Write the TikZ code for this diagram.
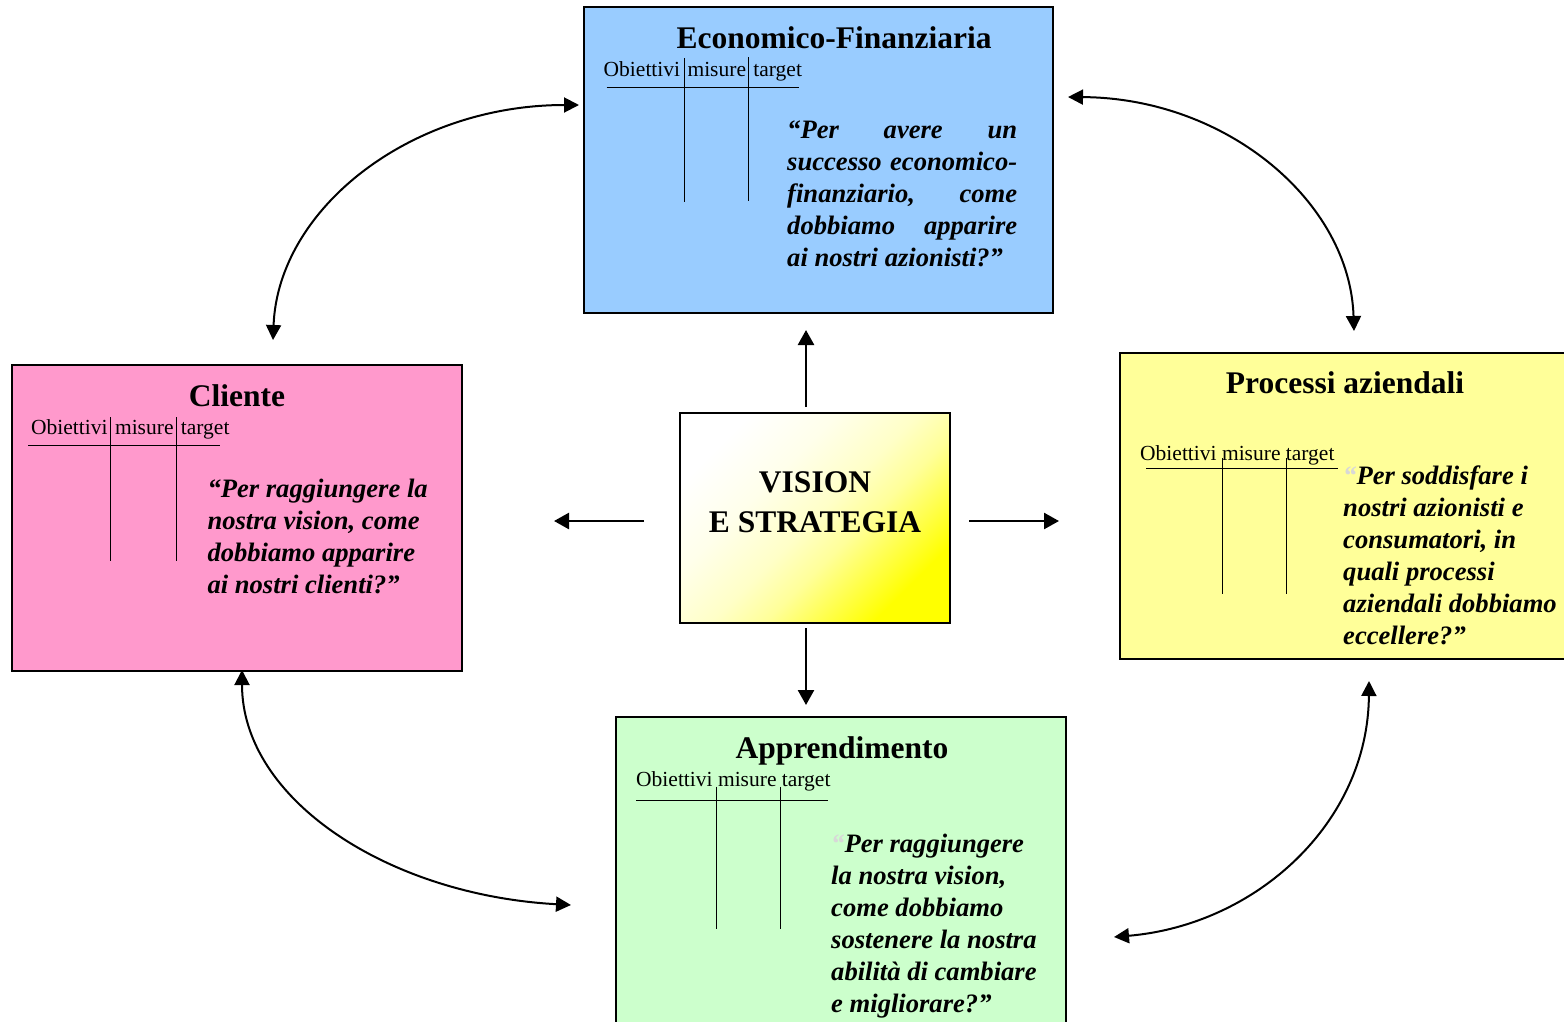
\documentclass[tikz,border=0pt]{standalone}
\usepackage{fontspec}
\setmainfont{Liberation Serif}
\usetikzlibrary{arrows.meta}
\definecolor{efblue}{HTML}{99CCFF}
\definecolor{clpink}{HTML}{FF99CC}
\definecolor{pryellow}{HTML}{FFFF99}
\definecolor{apgreen}{HTML}{CCFFCC}
\definecolor{quotegray}{HTML}{D8D8D8}
% diagonal white-to-yellow fill of the central box
\pgfdeclareverticalshading{visionfill}{100bp}{%
  color(0bp)=(yellow); color(26bp)=(yellow); color(34bp)=(yellow!70);
  color(42bp)=(yellow!40); color(50bp)=(yellow!22); color(62bp)=(yellow!8);
  color(75bp)=(white); color(100bp)=(white)}
\begin{document}
\begin{tikzpicture}[x=1pt,y=-1pt,
  panel/.style={draw=black, line width=1.8pt, rectangle, inner sep=0pt},
  ttl/.style={font=\fontsize{31.5}{36}\selectfont\bfseries, anchor=base, inner sep=0pt},
  cols/.style={font=\fontsize{21.5}{24}\selectfont, anchor=base west, inner sep=0pt},
  qtext/.style={anchor=base west, inner sep=0pt, font=\fontsize{26.6}{32}\selectfont\bfseries\itshape},
  rule/.style={line width=1pt},
  arr/.style={line width=2.5pt, -{Triangle[length=15pt,width=16pt]}},
  biarr/.style={line width=2pt, {Triangle[length=15pt,width=15pt]}-{Triangle[length=15pt,width=15pt]}}
]
\useasboundingbox (0,0) rectangle (1564,1021);
\clip (0,0) rectangle (1564,1021);

% perspective panels
\node[panel, fill=efblue, minimum width=469pt, minimum height=306pt] (ef) at (818.5,160) {};
\node[panel, fill=clpink, minimum width=450pt, minimum height=306pt] (cl) at (237,518) {};
\node[panel, fill=pryellow, minimum width=450pt, minimum height=306pt] (pr) at (1345,506) {};
\node[panel, fill=apgreen, minimum width=450pt, minimum height=312pt] (ap) at (841,873) {};

% central box with diagonal shading
\node[panel, minimum width=270pt, minimum height=210pt, shading=visionfill, shading angle=45] (vs) at (815,518) {};
\node[ttl, align=center] (vsA) at (815,492) {VISION};
\node[ttl, align=center] (vsB) at (815,532) {E STRATEGIA};

% Economico-Finanziaria
\node[ttl] (efT) at (834,48) {Economico-Finanziaria};
\node[cols] (efC) at (603.5,76) {Obiettivi\hspace{2pt} misure\hspace{2pt} target};
\draw[rule] (606.7,87.3) -- (799,87.3);
\draw[rule] (684.7,58) -- (684.7,202);
\draw[rule] (748.7,57) -- (748.7,201);
\node[qtext] (efQ) at (787,138) {\parbox[t]{230pt}{“Per avere un\linebreak successo economico-\linebreak finanziario, come\linebreak dobbiamo apparire\linebreak ai nostri azionisti?”}};

% Cliente
\node[ttl] (clT) at (237,406) {Cliente};
\node[cols] (clC) at (31,434) {Obiettivi\hspace{2pt} misure\hspace{2pt} target};
\draw[rule] (28,445.3) -- (220,445.3);
\draw[rule] (110.3,417) -- (110.3,560.7);
\draw[rule] (176.3,417) -- (176.3,560.7);
\node[qtext] (clQ) at (207.3,497) {\parbox[t]{250pt}{\raggedright “Per raggiungere la\\ nostra vision, come\\ dobbiamo apparire\\ ai nostri clienti?”}};

% Processi aziendali
\node[ttl] (prT) at (1345,393) {Processi aziendali};
\node[cols] (prC) at (1140,460) {Obiettivi misure target};
\draw[rule] (1146,468.3) -- (1338,468.3);
\draw[rule] (1222,458) -- (1222,593.5);
\draw[rule] (1286,458) -- (1286,593.5);
\node[qtext] (prQ) at (1343,484) {\parbox[t]{260pt}{\raggedright\leavevmode{\color{quotegray}“}Per soddisfare i\\ nostri azionisti e\\ consumatori, in\\ quali processi\\ aziendali dobbiamo\\ eccellere?”}};

% Apprendimento
\node[ttl] (apT) at (842,758) {Apprendimento};
\node[cols] (apC) at (636,786.7) {Obiettivi misure target};
\draw[rule] (636,800.7) -- (828,800.7);
\draw[rule] (716,786.7) -- (716,929);
\draw[rule] (780,786.7) -- (780,929);
\node[qtext] (apQ) at (831,852) {\parbox[t]{230pt}{\raggedright\leavevmode{\color{quotegray}“}Per raggiungere\\ la nostra vision,\\ come dobbiamo\\ sostenere la nostra\\ abilità di cambiare\\ e migliorare?”}};

% arrow end points around the panels
\coordinate (vsN) at (806,407);
\coordinate (efS) at (806,330);
\coordinate (vsS) at (806,628);
\coordinate (apN) at (806,705);
\coordinate (vsW) at (644,521);
\coordinate (clE) at (554,521);
\coordinate (vsE) at (969,521);
\coordinate (prW) at (1059,521);
\coordinate (efW) at (579,105);
\coordinate (clN) at (273,340);
\coordinate (efE) at (1068,97);
\coordinate (prN) at (1354,331);
\coordinate (clS) at (242,670);
\coordinate (apW) at (571,905);
\coordinate (prS) at (1369,681);
\coordinate (apE) at (1114,937);

% vision to perspectives
\draw[arr] (vsN) -- (efS);
\draw[arr] (vsS) -- (apN);
\draw[arr] (vsW) -- (clE);
\draw[arr] (vsE) -- (prW);

% links between perspectives
\draw[biarr] (clN) .. controls (278,209) and (410,105) .. (efW);
\draw[biarr] (efE) .. controls (1227,98) and (1350,202) .. (prN);
\draw[biarr] (clS) .. controls (242,800) and (389,895) .. (apW);
\draw[biarr] (prS) .. controls (1368,823) and (1256,925) .. (apE);
\end{tikzpicture}
\end{document}
